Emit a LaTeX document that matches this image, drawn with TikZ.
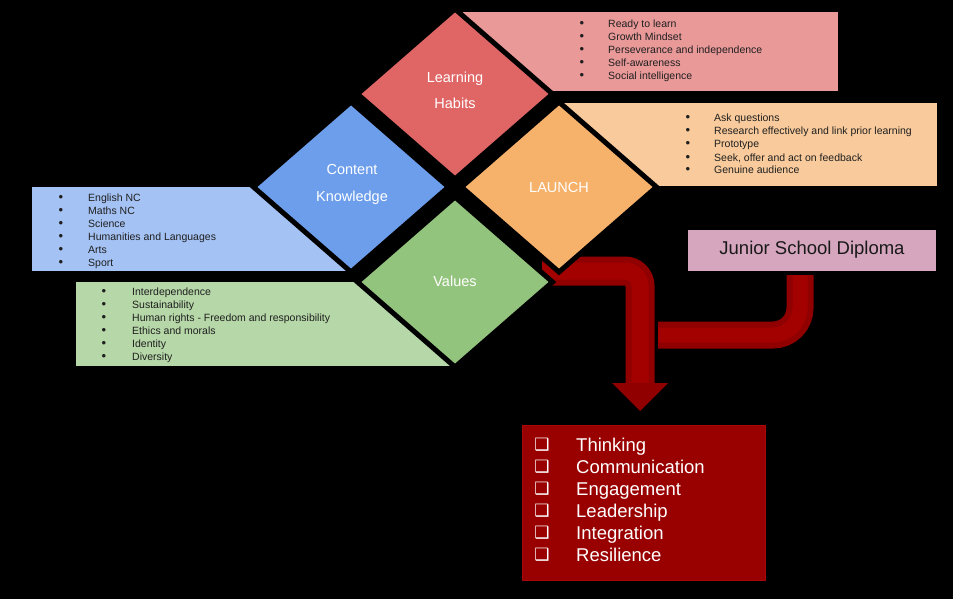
\documentclass[tikz,border=0pt]{standalone}
\usepackage{fontspec}
\setmainfont{Liberation Sans}
\newfontfamily\symfont{DejaVu Sans}
\usetikzlibrary{calc}
\definecolor{lhD}{HTML}{E06666}
\definecolor{lhL}{HTML}{EA9999}
\definecolor{laD}{HTML}{F6B26B}
\definecolor{laL}{HTML}{F9CB9C}
\definecolor{ckD}{HTML}{6D9EEB}
\definecolor{ckL}{HTML}{A4C2F4}
\definecolor{vaD}{HTML}{93C47D}
\definecolor{vaL}{HTML}{B6D7A8}
\definecolor{jsdC}{HTML}{D5A6BD}
\definecolor{outRed}{HTML}{990000}
\definecolor{outEdge}{HTML}{A80808}
\definecolor{arrOuter}{HTML}{900000}
\definecolor{arrInner}{HTML}{A30000}
\begin{document}
\begin{tikzpicture}[x=1pt,y=-1pt,
  panel/.style={draw=none, inner sep=0pt, outer sep=0pt, anchor=north west},
  diapath/.style={draw=black, line width=5pt, line join=miter},
  dlabel/.style={text=white, font=\fontsize{14.5}{17}\selectfont, anchor=base, inner sep=0pt},
  li/.style={font=\fontsize{10.5}{13}\selectfont, anchor=base west, inner sep=0pt, text=black!88},
  bul/.style={font=\fontsize{13}{13}\selectfont, anchor=base, inner sep=0pt, text=black!88},
  chk/.style={font=\symfont\fontsize{17}{18}\selectfont, anchor=base, inner sep=0pt, text=white},
  outitem/.style={font=\fontsize{18.5}{22}\selectfont, anchor=base west, inner sep=0pt, text=white},
  arrOut/.style={line width=29pt, draw=arrOuter},
  arrIn/.style={line width=17pt, draw=arrInner},
]
\fill[black] (0,0) rectangle (953,599);
\useasboundingbox (0,0) rectangle (953,599);

% list panels
\node[panel, fill=lhL, minimum width=383pt, minimum height=79pt] (lhbox) at (455,12) {};
\node[panel, fill=laL, minimum width=378pt, minimum height=83pt] (labox) at (559,103) {};
\node[panel, fill=ckL, minimum width=319pt, minimum height=84pt] (ckbox) at (32,187) {};
\node[panel, fill=vaL, minimum width=379pt, minimum height=84pt] (vabox) at (76,282) {};

% diamond centres
\coordinate (lh) at (455,94);
\coordinate (ck) at (351,187);
\coordinate (la) at (559,187);
\coordinate (va) at (455,282);

% arrow from the centre to the outcomes
\coordinate (a1s) at (542,271);
\coordinate (a1c) at (640,271);
\coordinate (a1e) at (640,384);
\draw[arrOut, rounded corners=15pt] (a1s) -- (a1c) -- (a1e);
\draw[arrIn, rounded corners=15pt] (a1s) -- (a1c) -- (a1e);
\fill[arrOuter] (612,383) -- (668,383) -- (640,411) -- cycle;

% diamonds
\foreach \n/\c in {lh/lhD, ck/ckD, la/laD, va/vaD}{
  \filldraw[diapath, fill=\c] ($(\n)+(0,-85)$) -- ($(\n)+(97.5,0)$) -- ($(\n)+(0,85)$) -- ($(\n)+(-97.5,0)$) -- cycle;
}

\node[dlabel] (lht1) at (455,83) {Learning};
\node[dlabel] (lht2) at (455,109) {Habits};
\node[dlabel] (ckt1) at (352,175) {Content};
\node[dlabel] (ckt2) at (352,201) {Knowledge};
\node[dlabel] (lat) at (559,192) {LAUNCH};
\node[dlabel] (vat) at (455,286) {Values};

% lists
\foreach \t [count=\i] in {Ready to learn, Growth Mindset, Perseverance and independence, Self-awareness, Social intelligence}{
  \node[bul] (lhb\i) at (582,{28+13*(\i-1)}) {\textbullet};
  \node[li] (lhi\i) at (608,{28+13*(\i-1)}) {\t};
}
\foreach \t [count=\i] in {Ask questions, Research effectively and link prior learning, Prototype, {Seek, offer and act on feedback}, Genuine audience}{
  \node[bul] (lab\i) at (688,{122+13*(\i-1)}) {\textbullet};
  \node[li] (lai\i) at (714,{122+13*(\i-1)}) {\t};
}
\foreach \t [count=\i] in {English NC, Maths NC, Science, Humanities and Languages, Arts, Sport}{
  \node[bul] (ckb\i) at (61,{201+13*(\i-1)}) {\textbullet};
  \node[li] (cki\i) at (88,{201+13*(\i-1)}) {\t};
}
\foreach \t [count=\i] in {Interdependence, Sustainability, Human rights - Freedom and responsibility, Ethics and morals, Identity, Diversity}{
  \node[bul] (vab\i) at (104,{295+13*(\i-1)}) {\textbullet};
  \node[li] (vai\i) at (132,{295+13*(\i-1)}) {\t};
}

% diploma box and its arrow
\node[panel, fill=jsdC, minimum width=248pt, minimum height=41pt] (jsd) at (688,230) {};
\node[font=\fontsize{18.5}{22}\selectfont, text=black!90, inner sep=0pt] (jsdt) at (812,250) {Junior School Diploma};
\coordinate (a2s) at (800,275);
\coordinate (a2c) at (800,335);
\coordinate (a2e) at (658,335);
\draw[arrOut, line width=27pt, rounded corners=27pt] (a2s) -- (a2c) -- (a2e);
\draw[arrIn, line width=15pt, rounded corners=27pt] (a2s) -- (a2c) -- (a2e);

% outcomes box
\node[panel, fill=outRed, draw=outEdge, line width=1pt, minimum width=243pt, minimum height=155pt] (outc) at (522,425) {};
\foreach \t [count=\i] in {Thinking, Communication, Engagement, Leadership, Integration, Resilience}{
  \node[chk] (oc\i) at (542,{450+22*(\i-1)}) {❑};
  \node[outitem] (oi\i) at (576,{451+22*(\i-1)}) {\t};
}
\end{tikzpicture}
\end{document}
